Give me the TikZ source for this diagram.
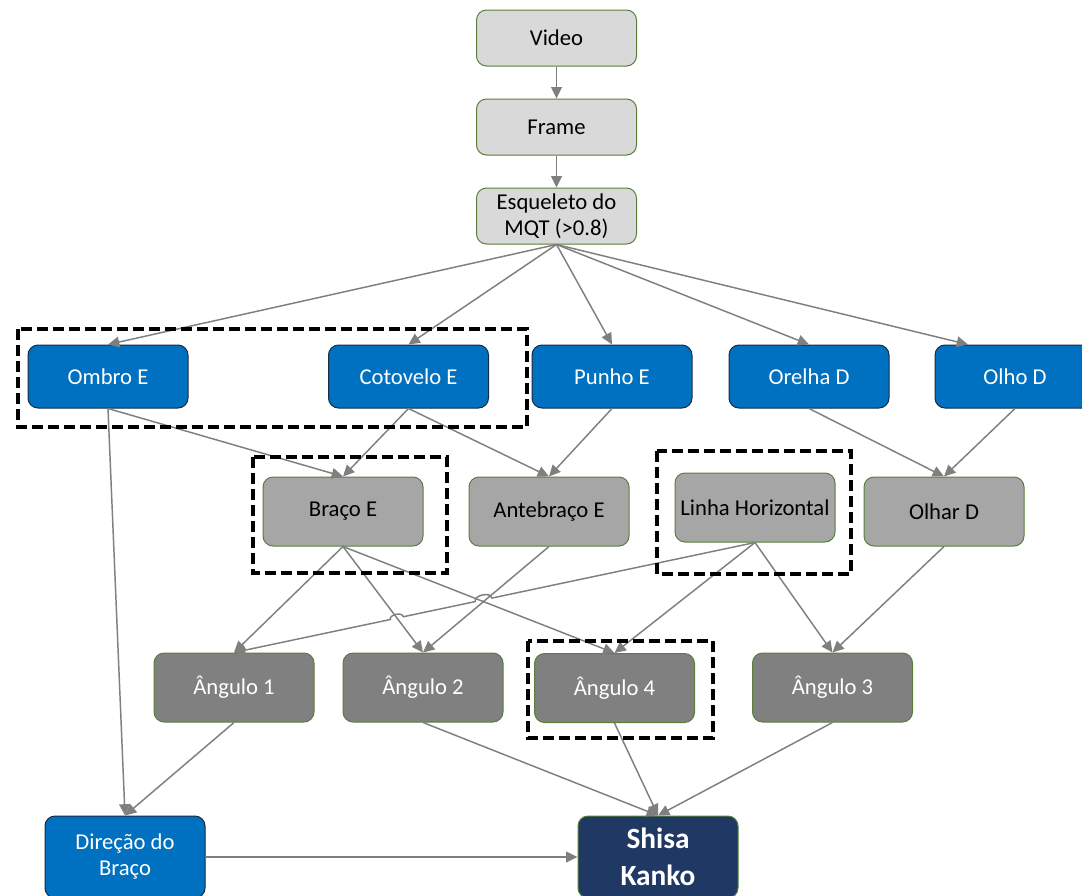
\documentclass[tikz,border=0pt]{standalone}
\usepackage{fontspec}
\setmainfont{Carlito}
\usetikzlibrary{arrows.meta,calc}
\definecolor{lg}{HTML}{D9D9D9}
\definecolor{bl}{HTML}{0070C0}
\definecolor{mg}{HTML}{A6A6A6}
\definecolor{dg}{HTML}{808080}
\definecolor{nv}{HTML}{1F3864}
\definecolor{gb}{HTML}{5A7F3A}
\definecolor{bb}{HTML}{1A2A40}
\definecolor{ac}{HTML}{7F7F7F}
\begin{document}
\begin{tikzpicture}[x=0.75pt,y=-0.75pt,
 box/.style={rounded corners=7.5pt, minimum width=120pt, inner sep=0pt, align=center, font=\fontsize{17}{19.5}\selectfont, line width=0.75pt},
 lbox/.style={box, draw=gb, fill=lg, text=black, minimum height=42pt},
 bbox/.style={box, draw=bb, fill=bl, text=white, minimum height=47.25pt},
 mbox/.style={box, draw=gb, fill=mg, text=black, minimum height=51.75pt},
 dbox/.style={box, draw=gb, fill=dg, text=white, minimum height=51.75pt},
 conn/.style={draw=ac, line width=1.1pt, -{Triangle[length=8.5pt,width=8pt]}},
 grp/.style={draw=black, line width=2.6pt, dash pattern=on 8pt off 4pt}]
\useasboundingbox (0,0) rectangle (1082,896);

\node[lbox] (video) at (556.5,38) {Video};
\node[lbox] (frame) at (556.5,127) {Frame};
\node[lbox] (esq) at (556.5,216) {Esqueleto do\\MQT (>0.8)};

\node[bbox] (ombro) at (108,376.5) {Ombro E};
\node[bbox] (cotovelo) at (408.5,376.5) {Cotovelo E};
\node[bbox] (punho) at (612,376.5) {Punho E};
\node[bbox] (orelha) at (809,376.5) {Orelha D};
\node[bbox] (olho) at (1015,376.5) {Olho D};

\node[mbox] (braco) at (343,511.5) {Braço E};
\node[mbox] (antebraco) at (549,511.5) {Antebraço E};
\node[mbox] (linha) at (755,507.5) {Linha Horizontal};
\node[mbox] (olhar) at (944,511.5) {Olhar D};

\node[dbox] (ang1) at (234,687.5) {Ângulo 1};
\node[dbox] (ang2) at (423,687.5) {Ângulo 2};
\node[dbox] (ang4) at (614.5,688) {Ângulo 4};
\node[dbox] (ang3) at (832.5,687.5) {Ângulo 3};

\node[box, draw=bb, fill=bl, text=white, minimum height=61.5pt] (dir) at (125,857) {Direção do\\Braço};
\node[box, draw=gb, fill=nv, text=white, minimum height=61.5pt, font=\fontsize{22}{28}\selectfont\bfseries] (shisa) at (658,857) {Shisa\\Kanko};

\draw[conn] (video.south) -- (frame.north);
\draw[conn] (frame.south) -- (esq.north);
\draw[conn] (esq.south) -- (ombro.north);
\draw[conn] (esq.south) -- (cotovelo.north);
\draw[conn] (esq.south) -- (punho.north);
\draw[conn] (esq.south) -- (orelha.north);
\coordinate (olhoin) at ($(olho.north)+(-47,0)$);
\draw[conn] (esq.south) -- (olhoin);

\draw[conn] (ombro.south) -- (braco.north);
\draw[conn] (cotovelo.south) -- (braco.north);
\draw[conn] (cotovelo.south) -- (antebraco.north);
\draw[conn] (punho.south) -- (antebraco.north);
\draw[conn] (ombro.south) -- (dir.north);
\draw[conn] (orelha.south) -- (olhar.north);
\draw[conn] (olho.south) -- (olhar.north);

\draw[conn] (braco.south) -- (ang1.north);
\draw[conn] (braco.south) -- (ang2.north);
\draw[conn] (braco.south) -- (ang4.north);
\draw[conn] (antebraco.south) -- (ang2.north);
\draw[conn] (linha.south) -- (ang4.north);
\draw[conn] (linha.south) -- (ang3.north);
\draw[conn] (olhar.south) -- (ang3.north);

\coordinate (h1a) at ($(linha.south)!0.505!(ang1.north)$);
\coordinate (h1b) at ($(linha.south)!0.537!(ang1.north)$);
\coordinate (h2a) at ($(linha.south)!0.675!(ang1.north)$);
\coordinate (h2b) at ($(linha.south)!0.700!(ang1.north)$);
\draw[conn] (linha.south) -- (h1a) to[bend right=90] (h1b) -- (h2a) to[bend right=90] (h2b) -- (ang1.north);

\draw[conn] (ang1.south) -- (dir.north);
\draw[conn] (ang2.south) -- (shisa.north);
\draw[conn] (ang4.south) -- (shisa.north);
\draw[conn] (ang3.south) -- (shisa.north);
\draw[conn] (dir.east) -- (shisa.west);

\draw[grp] (18,329) rectangle (527,427);
\draw[grp] (253,457) rectangle (447,573);
\draw[grp] (657,451) rectangle (851,574);
\draw[grp] (528,641) rectangle (713,738);
\end{tikzpicture}
\end{document}
